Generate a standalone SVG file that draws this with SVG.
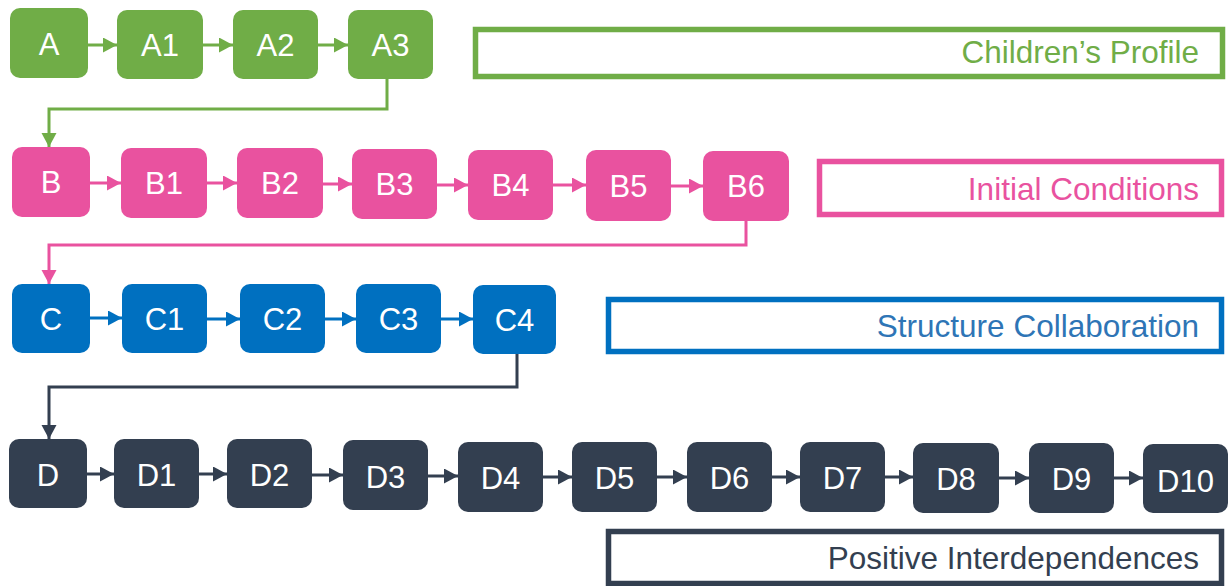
<svg xmlns="http://www.w3.org/2000/svg" width="1230" height="586" viewBox="0 0 1230 586">
  <style>
    .node text { font-family: "Liberation Sans", Arial, sans-serif; font-size: 31px; fill: #ffffff; text-anchor: middle; }
    .title { font-family: "Liberation Sans", Arial, sans-serif; font-size: 31.5px; text-anchor: end; }
    .ga rect { fill: #70AD47; }
    .gb rect { fill: #E9529F; }
    .gc rect { fill: #0070C0; }
    .gd rect { fill: #333F50; }
    .conn path { fill: none; stroke-width: 3; }
    .box { fill: #ffffff; stroke-width: 5.5; }
  </style>
  <defs>
    <marker id="ahA" markerUnits="userSpaceOnUse" markerWidth="15" markerHeight="16" refX="14" refY="7.5" orient="auto"><path d="M0,0 L14,7.5 L0,15 Z" fill="#70AD47"/></marker>
    <marker id="ahB" markerUnits="userSpaceOnUse" markerWidth="15" markerHeight="16" refX="14" refY="7.5" orient="auto"><path d="M0,0 L14,7.5 L0,15 Z" fill="#E9529F"/></marker>
    <marker id="ahC" markerUnits="userSpaceOnUse" markerWidth="15" markerHeight="16" refX="14" refY="7.5" orient="auto"><path d="M0,0 L14,7.5 L0,15 Z" fill="#0070C0"/></marker>
    <marker id="ahD" markerUnits="userSpaceOnUse" markerWidth="15" markerHeight="16" refX="14" refY="7.5" orient="auto"><path d="M0,0 L14,7.5 L0,15 Z" fill="#333F50"/></marker>
  </defs>

  <!-- section captions -->
  <g id="title-a">
    <rect class="box" x="475.5" y="29.5" width="747" height="47" stroke="#70AD47"/>
    <text class="title" x="1199" y="63" fill="#70AD47">Children’s Profile</text>
  </g>
  <g id="title-b">
    <rect class="box" x="819.5" y="161.5" width="402" height="53" stroke="#E9529F"/>
    <text class="title" x="1199" y="200" fill="#E9529F">Initial Conditions</text>
  </g>
  <g id="title-c">
    <rect class="box" x="608.5" y="299.5" width="613" height="52" stroke="#0070C0"/>
    <text class="title" x="1199" y="337" fill="#2E75B6">Structure Collaboration</text>
  </g>
  <g id="title-d">
    <rect class="box" x="608.5" y="531.5" width="613" height="52" stroke="#333F50"/>
    <text class="title" x="1199" y="569" fill="#333F50">Positive Interdependences</text>
  </g>

  <!-- connectors -->
  <g id="connectors" class="conn">
    <path d="M88,45 H117" stroke="#70AD47" marker-end="url(#ahA)"/>
    <path d="M203,45 H233" stroke="#70AD47" marker-end="url(#ahA)"/>
    <path d="M318,45 H348" stroke="#70AD47" marker-end="url(#ahA)"/>
    <path d="M387,79 V109 H49 V147" stroke="#70AD47" marker-end="url(#ahA)"/>

    <path d="M90,183 H121" stroke="#E9529F" marker-end="url(#ahB)"/>
    <path d="M207,183 H237" stroke="#E9529F" marker-end="url(#ahB)"/>
    <path d="M323,184 H352" stroke="#E9529F" marker-end="url(#ahB)"/>
    <path d="M437,185 H468" stroke="#E9529F" marker-end="url(#ahB)"/>
    <path d="M553,185 H586" stroke="#E9529F" marker-end="url(#ahB)"/>
    <path d="M671,186 H703" stroke="#E9529F" marker-end="url(#ahB)"/>
    <path d="M746,221 V245 H49 V284" stroke="#E9529F" marker-end="url(#ahB)"/>

    <path d="M90,318 H122" stroke="#0070C0" marker-end="url(#ahC)"/>
    <path d="M207,319 H240" stroke="#0070C0" marker-end="url(#ahC)"/>
    <path d="M325,319 H356" stroke="#0070C0" marker-end="url(#ahC)"/>
    <path d="M441,319 H473" stroke="#0070C0" marker-end="url(#ahC)"/>
    <path d="M517,354 V387 H49 V439" stroke="#333F50" marker-end="url(#ahD)"/>

    <path d="M87,474 H114" stroke="#333F50" marker-end="url(#ahD)"/>
    <path d="M199,474 H227" stroke="#333F50" marker-end="url(#ahD)"/>
    <path d="M312,475 H343" stroke="#333F50" marker-end="url(#ahD)"/>
    <path d="M428,476 H458" stroke="#333F50" marker-end="url(#ahD)"/>
    <path d="M543,477 H572" stroke="#333F50" marker-end="url(#ahD)"/>
    <path d="M657,477 H687" stroke="#333F50" marker-end="url(#ahD)"/>
    <path d="M772,477 H800" stroke="#333F50" marker-end="url(#ahD)"/>
    <path d="M885,477 H913" stroke="#333F50" marker-end="url(#ahD)"/>
    <path d="M999,478 H1029" stroke="#333F50" marker-end="url(#ahD)"/>
    <path d="M1114,478 H1143" stroke="#333F50" marker-end="url(#ahD)"/>
  </g>

  <!-- row A -->
  <g id="node-A" class="node ga"><rect x="10" y="8" width="78" height="70" rx="10"/><text x="49" y="55">A</text></g>
  <g id="node-A1" class="node ga"><rect x="117" y="10" width="86" height="69" rx="10"/><text x="160" y="56">A1</text></g>
  <g id="node-A2" class="node ga"><rect x="233" y="10" width="85" height="69" rx="10"/><text x="275.5" y="56">A2</text></g>
  <g id="node-A3" class="node ga"><rect x="348" y="10" width="85" height="69" rx="10"/><text x="390.5" y="56">A3</text></g>

  <!-- row B -->
  <g id="node-B" class="node gb"><rect x="12" y="147" width="78" height="70" rx="10"/><text x="51" y="193">B</text></g>
  <g id="node-B1" class="node gb"><rect x="121" y="148" width="86" height="70" rx="10"/><text x="164" y="194">B1</text></g>
  <g id="node-B2" class="node gb"><rect x="237" y="148" width="86" height="70" rx="10"/><text x="280" y="194">B2</text></g>
  <g id="node-B3" class="node gb"><rect x="352" y="149" width="85" height="70" rx="10"/><text x="394.5" y="195">B3</text></g>
  <g id="node-B4" class="node gb"><rect x="468" y="150" width="85" height="70" rx="10"/><text x="510.5" y="196">B4</text></g>
  <g id="node-B5" class="node gb"><rect x="586" y="150" width="85" height="71" rx="10"/><text x="628.5" y="197">B5</text></g>
  <g id="node-B6" class="node gb"><rect x="703" y="151" width="86" height="70" rx="10"/><text x="746" y="197">B6</text></g>

  <!-- row C -->
  <g id="node-C" class="node gc"><rect x="12" y="284" width="78" height="69" rx="10"/><text x="51" y="330">C</text></g>
  <g id="node-C1" class="node gc"><rect x="122" y="284" width="85" height="69" rx="10"/><text x="164.5" y="330">C1</text></g>
  <g id="node-C2" class="node gc"><rect x="240" y="284" width="85" height="69" rx="10"/><text x="282.5" y="330">C2</text></g>
  <g id="node-C3" class="node gc"><rect x="356" y="284" width="85" height="69" rx="10"/><text x="398.5" y="330">C3</text></g>
  <g id="node-C4" class="node gc"><rect x="473" y="285" width="83" height="69" rx="10"/><text x="514.5" y="331">C4</text></g>

  <!-- row D -->
  <g id="node-D" class="node gd"><rect x="9" y="439" width="78" height="69" rx="10"/><text x="48" y="486">D</text></g>
  <g id="node-D1" class="node gd"><rect x="114" y="439" width="85" height="69" rx="10"/><text x="156.5" y="486">D1</text></g>
  <g id="node-D2" class="node gd"><rect x="227" y="439" width="85" height="69" rx="10"/><text x="269.5" y="486">D2</text></g>
  <g id="node-D3" class="node gd"><rect x="343" y="440" width="85" height="70" rx="10"/><text x="385.5" y="488">D3</text></g>
  <g id="node-D4" class="node gd"><rect x="458" y="442" width="85" height="70" rx="10"/><text x="500.5" y="489">D4</text></g>
  <g id="node-D5" class="node gd"><rect x="572" y="442" width="85" height="70" rx="10"/><text x="614.5" y="489">D5</text></g>
  <g id="node-D6" class="node gd"><rect x="687" y="442" width="85" height="70" rx="10"/><text x="729.5" y="489">D6</text></g>
  <g id="node-D7" class="node gd"><rect x="800" y="442" width="85" height="70" rx="10"/><text x="842.5" y="489">D7</text></g>
  <g id="node-D8" class="node gd"><rect x="913" y="443" width="86" height="70" rx="10"/><text x="956" y="490">D8</text></g>
  <g id="node-D9" class="node gd"><rect x="1029" y="443" width="85" height="70" rx="10"/><text x="1071.5" y="490">D9</text></g>
  <g id="node-D10" class="node gd"><rect x="1143" y="444" width="85" height="69" rx="10"/><text x="1185.5" y="492">D10</text></g>
</svg>
